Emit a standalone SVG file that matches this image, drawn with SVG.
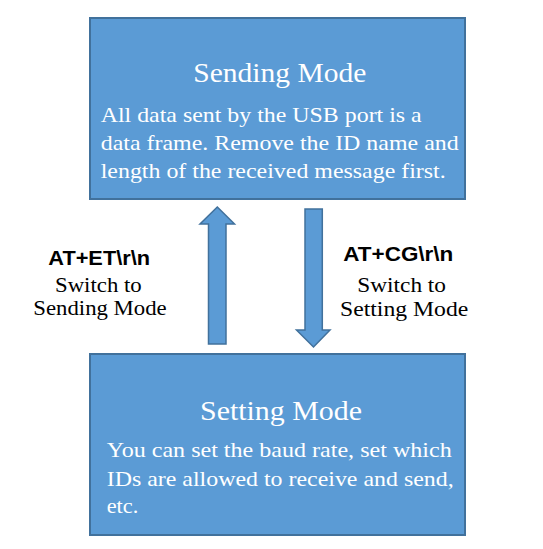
<svg xmlns="http://www.w3.org/2000/svg" width="543" height="549" viewBox="0 0 543 549">
<style>
.box{fill:#5B9BD5;stroke:#41719C;stroke-width:2}
.arrow{fill:#5B9BD5;stroke:#41719C;stroke-width:1.5;stroke-linejoin:miter}
.title{font-family:"Liberation Serif","Times New Roman","DejaVu Serif",serif;font-size:27px;fill:#fff}
.body{font-family:"Liberation Serif","Times New Roman","DejaVu Serif",serif;font-size:22px;fill:#fff}
.cmd{font-family:"Liberation Sans",Arial,sans-serif;font-weight:bold;font-size:20px;fill:#000}
.lbl{font-family:"Liberation Serif","Times New Roman","DejaVu Serif",serif;font-size:21px;fill:#000}
</style>
<rect width="543" height="549" fill="#fff"/>
<g id="sending-mode">
<rect class="box" x="90" y="18" width="375" height="181"/>
<text class="title" x="193.3" y="82" textLength="173" lengthAdjust="spacingAndGlyphs">Sending Mode</text>
<text class="body" x="100.7" y="122" textLength="321" lengthAdjust="spacingAndGlyphs">All data sent by the USB port is a</text>
<text class="body" x="100.7" y="150" textLength="358" lengthAdjust="spacingAndGlyphs">data frame. Remove the ID name and</text>
<text class="body" x="100.7" y="177.5" textLength="345" lengthAdjust="spacingAndGlyphs">length of the received message first.</text>
</g>
<g id="setting-mode">
<rect class="box" x="90" y="354" width="375" height="181"/>
<text class="title" x="200" y="420" textLength="162" lengthAdjust="spacingAndGlyphs">Setting Mode</text>
<text class="body" x="106.7" y="457" textLength="345" lengthAdjust="spacingAndGlyphs">You can set the baud rate, set which</text>
<text class="body" x="106.7" y="485.5" textLength="347" lengthAdjust="spacingAndGlyphs">IDs are allowed to receive and send,</text>
<text class="body" x="106.7" y="513" textLength="31.6" lengthAdjust="spacingAndGlyphs">etc.</text>
</g>
<g id="connectors">
<polygon class="arrow" points="217.3,207 234.5,224 226,224 226,344 208.5,344 208.5,224 200,224"/>
<polygon class="arrow" points="305,209 322.3,209 322.3,330 330,330 313.5,347 296.5,330 305,330"/>
</g>
<g id="label-to-sending">
<text class="cmd" x="48.3" y="265" textLength="101.7" lengthAdjust="spacingAndGlyphs">AT+ET\r\n</text>
<text class="lbl" x="55" y="292.3" textLength="86.7" lengthAdjust="spacingAndGlyphs">Switch to</text>
<text class="lbl" x="33.3" y="315" textLength="133.4" lengthAdjust="spacingAndGlyphs">Sending Mode</text>
</g>
<g id="label-to-setting">
<text class="cmd" x="343.3" y="261" textLength="110" lengthAdjust="spacingAndGlyphs">AT+CG\r\n</text>
<text class="lbl" x="357.3" y="292.3" textLength="88.7" lengthAdjust="spacingAndGlyphs">Switch to</text>
<text class="lbl" x="340" y="316" textLength="128.3" lengthAdjust="spacingAndGlyphs">Setting Mode</text>
</g>
</svg>
